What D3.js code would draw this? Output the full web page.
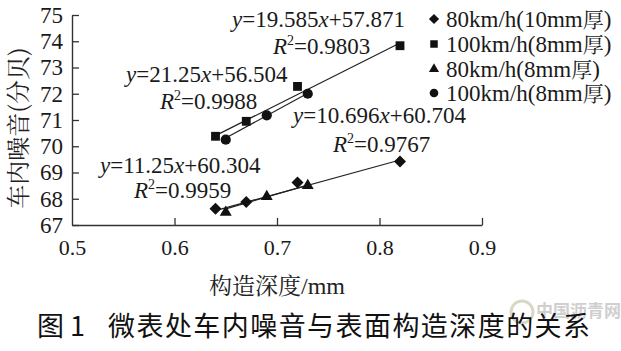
<!DOCTYPE html>
<html><head><meta charset="utf-8">
<script src="https://cdn.jsdelivr.net/npm/d3@7"></script>
<style>
html,body{margin:0;padding:0;background:#fff;}
svg{display:block;}
</style></head>
<body>
<script>
// ---- data ----
const seriesNames = ["80km/h(10mm厚)", "100km/h(8mm厚)", "80km/h(8mm厚)", "100km/h(8mm厚)"];
const seriesSymbols = ["diamond", "square", "triangle", "circle"];
const diamondX = [0.64, 0.67, 0.72, 0.82];
const diamondY = [67.62, 67.88, 68.62, 69.42];
const squareX = [0.64, 0.67, 0.72, 0.82];
const squareY = [70.38, 70.95, 72.28, 73.83];
const triangleX = [0.65, 0.69, 0.73];
const triangleY = [67.48, 68.08, 68.50];
const circleX = [0.65, 0.69, 0.73];
const circleY = [70.25, 71.18, 72.00];
// regression lines (slope, intercept) as printed
const slopes = [10.696, 19.585, 11.25, 21.25];
const intercepts = [60.704, 57.871, 60.304, 56.504];
const equations = ["y=10.696x+60.704", "y=19.585x+57.871", "y=11.25x+60.304", "y=21.25x+56.504"];
const r2Values = ["0.9767", "0.9803", "0.9959", "0.9988"];
const xTicks = [0.5, 0.6, 0.7, 0.8, 0.9];
const yTicks = [67, 68, 69, 70, 71, 72, 73, 74, 75];
const xTitle = ["构造深度", "/mm"];
const yTitle = "车内噪音(分贝)";
const caption = ["图 1", "微表处车内噪音与表面构造深度的关系"];

const xs = [diamondX, squareX, triangleX, circleX];
const ys = [diamondY, squareY, triangleY, circleY];

// ---- layout ----
const W = 621, H = 351;
const SERIF = '"Liberation Serif", monospace';
const SONG = '"Noto Serif CJK SC", monospace';
const HEI = '"Noto Sans CJK SC", monospace';
const svg = d3.select("body").append("svg").attr("width", W).attr("height", H);
const x = d3.scaleLinear().domain([0.5, 0.9]).range([72, 482]);
const y = d3.scaleLinear().domain([67, 75]).range([225, 15]);
const ink = "#1a1a1a";

// axes
const xAxis = d3.axisBottom(x).tickValues(xTicks).tickSizeInner(-7).tickSizeOuter(0).tickPadding(14).tickFormat(d3.format(".1f"));
const gx = svg.append("g").attr("transform", `translate(0,${y(67)})`).call(xAxis);
const yAxis = d3.axisLeft(y).tickValues(yTicks).tickSizeInner(-7).tickSizeOuter(0).tickPadding(9).tickFormat(d3.format("d"));
const gy = svg.append("g").attr("transform", `translate(${x(0.5)},0)`).call(yAxis);
[gx, gy].forEach(g => {
  g.attr("font-family", null).attr("font-size", null);
  g.select(".domain").attr("stroke", "#333").attr("stroke-width", 1.4);
  g.selectAll(".tick line").attr("stroke", "#333").attr("stroke-width", 1.3);
  g.selectAll(".tick text").attr("fill", ink).style("font-family", SERIF);
});
gx.selectAll(".tick text").style("font-size", "22px");
gy.selectAll(".tick text").style("font-size", "23px");
gx.selectAll(".tick").filter(d => d === 0.5).select("line").remove();

// symbols (diamond = square turned 45 degrees)
const symType = {diamond: d3.symbolSquare, square: d3.symbolSquare, triangle: d3.symbolTriangle, circle: d3.symbolCircle};
const symSize = {diamond: 72, square: 78, triangle: 62, circle: 82};
const symRot = {diamond: 45, square: 0, triangle: 0, circle: 0};

// regression lines
xs.forEach((xv, i) => {
  const x0 = d3.min(xv), x1 = d3.max(xv);
  svg.append("line")
    .attr("x1", x(x0)).attr("y1", y(slopes[i] * x0 + intercepts[i]))
    .attr("x2", x(x1)).attr("y2", y(slopes[i] * x1 + intercepts[i]))
    .attr("stroke", "#222").attr("stroke-width", 1.2);
});
// markers
xs.forEach((xv, i) => {
  const s = seriesSymbols[i];
  svg.append("g").selectAll("path").data(xv.map((v, j) => [v, ys[i][j]])).join("path")
    .attr("transform", d => `translate(${x(d[0])},${y(d[1])}) rotate(${symRot[s]})`)
    .attr("d", d3.symbol().type(symType[s]).size(symSize[s]))
    .attr("fill", "#111");
});

// equation annotations
const eqPos = [
  {i: 1, x: 232, y: 27, rx: 273, ry: 54},
  {i: 3, x: 126, y: 82, rx: 160, ry: 109},
  {i: 0, x: 293, y: 123, rx: 333, ry: 152},
  {i: 2, x: 100, y: 173, rx: 134, ry: 198}
];
eqPos.forEach(p => {
  const eq = equations[p.i];
  const t = svg.append("text").attr("x", p.x).attr("y", p.y)
    .style("font-family", SERIF).style("font-size", "23px").attr("fill", ink);
  const m = eq.match(/^y(=[\d.]+)x(\+[\d.]+)$/);
  t.append("tspan").style("font-style", "italic").text("y");
  t.append("tspan").text(m[1]);
  t.append("tspan").style("font-style", "italic").text("x");
  t.append("tspan").text(m[2]);
  const r = svg.append("text").attr("x", p.rx).attr("y", p.ry)
    .style("font-family", SERIF).style("font-size", "23px").attr("fill", ink);
  r.append("tspan").style("font-style", "italic").text("R");
  r.append("tspan").attr("dy", -9).style("font-size", "14px").text("2");
  r.append("tspan").attr("dy", 9).text("=" + r2Values[p.i]);
});

// legend
const legY = [19, 44, 69, 93];
seriesNames.forEach((name, i) => {
  const s = seriesSymbols[i];
  svg.append("path").attr("transform", `translate(434,${legY[i]}) rotate(${symRot[s]})`)
    .attr("d", d3.symbol().type(symType[s]).size(symSize[s] * 0.72)).attr("fill", "#111");
  const t = svg.append("text").attr("x", 446).attr("y", legY[i] + 8)
    .style("font-family", SERIF).style("font-size", "23px").attr("fill", ink);
  const k = name.indexOf("厚");
  t.append("tspan").text(name.slice(0, k));
  t.append("tspan").style("font-family", SONG).style("font-size", "21px").text("厚");
  t.append("tspan").text(name.slice(k + 1));
});

// axis titles
const xt = svg.append("text").attr("x", 277).attr("y", 294).attr("text-anchor", "middle").attr("fill", "#222");
xt.append("tspan").style("font-family", SONG).style("font-size", "23px").text(xTitle[0]);
xt.append("tspan").style("font-family", SERIF).style("font-size", "24px").text(xTitle[1]);
svg.append("text").attr("transform", "translate(27,128) rotate(-90)").attr("text-anchor", "middle")
  .style("font-family", SONG).style("font-size", "24px").attr("fill", "#222").text(yTitle);

// watermark
svg.append("circle").attr("cx", 522).attr("cy", 312).attr("r", 11).attr("fill", "none").attr("stroke", "#d8d8c4").attr("stroke-width", 3);
svg.append("text").attr("x", 536).attr("y", 317).style("font-family", HEI).style("font-size", "17px")
  .style("font-weight", "bold").attr("fill", "#cfcfcf").text("中国沥青网");

// caption
const cap = svg.append("text").attr("y", 336).style("font-family", HEI).style("font-size", "27px").attr("fill", "#111");
cap.append("tspan").attr("x", 37).text(caption[0]);
cap.append("tspan").attr("x", 108).attr("textLength", 482).text(caption[1]);
</script>
</body></html>
